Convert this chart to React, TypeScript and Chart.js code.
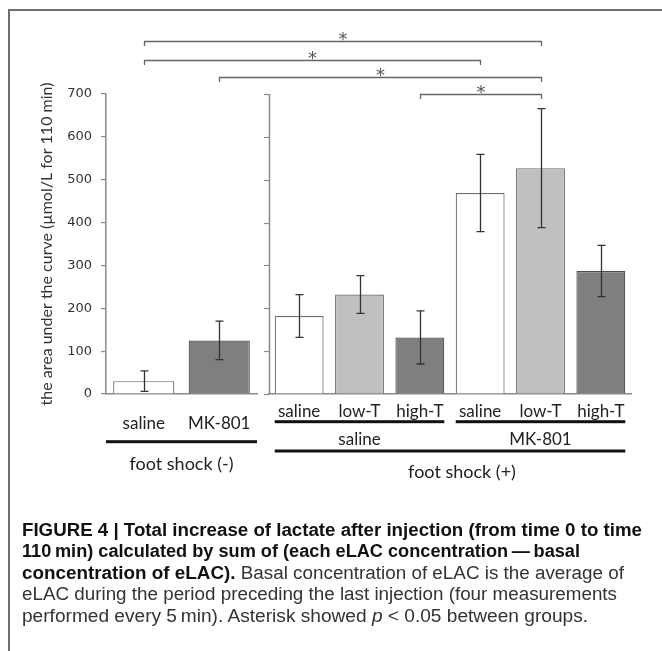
import React, { useEffect, useLayoutEffect, useRef } from 'react';
import { Chart, registerables } from 'chart.js';

Chart.register(...registerables);

// ---- data ----
const leftCategories = ['saline', 'MK-801'];
const leftMeans = [30, 125];
const leftErrors = [24, 45];
const leftFills = ['#ffffff', '#7f7f7f'];
const leftBorders = ['#6a6a6a', '#505050'];

const rightCategories = ['saline', 'low-T', 'high-T', 'saline', 'low-T', 'high-T'];
const rightMeans = [182, 232, 132, 469, 527, 287];
const rightErrors = [50, 44, 62, 90, 139, 60];
const rightFills = ['#ffffff', '#c0c0c0', '#7f7f7f', '#ffffff', '#c0c0c0', '#7f7f7f'];
const rightBorders = ['#6a6a6a', '#6a6a6a', '#505050', '#6a6a6a', '#6a6a6a', '#505050'];

const yMin = 0;
const yMax = 700;
const yStep = 100;
const yTitle = 'the area under the curve (µmol/L for 110 min)';

const rightGroupNames = ['saline', 'MK-801'];
const rightGroupStarts = [0, 3];
const rightGroupEnds = [2, 5];
const leftSuperGroup = 'foot shock (-)';
const rightSuperGroup = 'foot shock (+)';

// significance brackets (panel / bar index of both ends, height in y units)
const bracketFromPanel = ['L', 'L', 'L', 'R'];
const bracketFromIndex = [0, 0, 1, 2];
const bracketToPanel = ['R', 'R', 'R', 'R'];
const bracketToIndex = [4, 3, 4, 4];
const bracketLevels = [824, 780, 740, 700];
const bracketMark = '*';

const AXIS_COLOR = '#8a8a8a';

function FitLine(props: { top: number; width: number; children: React.ReactNode }) {
  const ref = useRef<HTMLDivElement>(null);
  useLayoutEffect(() => {
    const el = ref.current;
    if (!el) return;
    el.style.transform = 'none';
    const w = el.getBoundingClientRect().width;
    if (w > 0) el.style.transform = `scaleX(${props.width / w})`;
  }, [props.width]);
  return (
    <div
      ref={ref}
      style={{
        position: 'absolute',
        left: 22,
        top: props.top,
        whiteSpace: 'nowrap',
        transformOrigin: '0 0',
        fontFamily: '"Liberation Sans Narrow", "Liberation Sans", Arial, sans-serif',
        fontSize: 18,
        lineHeight: '21.6px',
        color: '#333',
      }}
    >
      {props.children}
    </div>
  );
}

export default function App() {
  const canvasRef = useRef<HTMLCanvasElement>(null);

  useEffect(() => {
    const canvas = canvasRef.current;
    if (!canvas) return;
    const errorsByDataset = [leftErrors, rightErrors];

    const annotations = {
      id: 'annotations',
      afterDatasetsDraw(chart: any) {
        const ctx = chart.ctx;
        const y = chart.scales.y;
        ctx.save();
        ctx.strokeStyle = '#333';
        ctx.lineWidth = 1.3;
        chart.data.datasets.forEach((ds: any, di: number) => {
          const meta = chart.getDatasetMeta(di);
          const errs = errorsByDataset[di];
          meta.data.forEach((bar: any, i: number) => {
            const v = ds.data[i];
            const e = errs[i];
            const x = Math.round(bar.x) + 0.5;
            const yt = y.getPixelForValue(v + e);
            const yb = y.getPixelForValue(v - e);
            ctx.beginPath();
            ctx.moveTo(x, yt);
            ctx.lineTo(x, yb);
            ctx.moveTo(x - 4, yt);
            ctx.lineTo(x + 4, yt);
            ctx.moveTo(x - 4, yb);
            ctx.lineTo(x + 4, yb);
            ctx.stroke();
          });
        });
        ctx.restore();
      },
      afterDraw(chart: any) {
        const ctx = chart.ctx;
        const y = chart.scales.y;
        const xL = chart.scales.xL;
        const xR = chart.scales.xR;
        const base = chart.chartArea.bottom;
        const L = chart.getDatasetMeta(0).data as any[];
        const R = chart.getDatasetMeta(1).data as any[];
        ctx.save();

        // right panel vertical axis, sharing the y scale
        const ax = Math.round(xR.left) + 0.5;
        ctx.strokeStyle = AXIS_COLOR;
        ctx.lineWidth = 1.5;
        ctx.beginPath();
        ctx.moveTo(ax, y.getPixelForValue(yMax));
        ctx.lineTo(ax, y.getPixelForValue(yMin));
        ctx.stroke();
        ctx.lineWidth = 1.2;
        y.ticks.forEach((t: any) => {
          const ty = Math.round(y.getPixelForValue(t.value)) + 0.5;
          ctx.beginPath();
          ctx.moveTo(ax - 5.5, ty);
          ctx.lineTo(ax, ty);
          ctx.stroke();
        });

        ctx.textAlign = 'center';
        ctx.textBaseline = 'middle';

        // right sub groups
        rightGroupNames.forEach((name, g) => {
          const a = R[rightGroupStarts[g]];
          const b = R[rightGroupEnds[g]];
          const x0 = a.x - a.width / 2;
          const x1 = b.x + b.width / 2;
          ctx.fillStyle = '#111';
          ctx.fillRect(x0, base + 26.2, x1 - x0, 3);
          ctx.fillStyle = '#222';
          ctx.font = '17px Lato';
          ctx.fillText(name, (a.x + b.x) / 2, base + 46);
        });
        // right super group
        const r0 = R[0];
        const rn = R[R.length - 1];
        ctx.fillStyle = '#111';
        ctx.fillRect(r0.x - r0.width / 2, base + 55.5, rn.x + rn.width / 2 - (r0.x - r0.width / 2), 3);
        ctx.fillStyle = '#222';
        ctx.font = '18px Lato';
        ctx.fillText(rightSuperGroup, (r0.x + rn.x) / 2 + 12, base + 78);
        // left super group
        ctx.fillStyle = '#111';
        ctx.fillRect(xL.left, base + 46.2, xL.right - xL.left, 3);
        ctx.fillStyle = '#222';
        ctx.font = '18px Lato';
        ctx.fillText(leftSuperGroup, (L[0].x + L[L.length - 1].x) / 2, base + 70);

        // significance brackets
        bracketLevels.forEach((lvl, k) => {
          const a = (bracketFromPanel[k] === 'L' ? L : R)[bracketFromIndex[k]];
          const b = (bracketToPanel[k] === 'L' ? L : R)[bracketToIndex[k]];
          const yy = Math.round(y.getPixelForValue(lvl)) + 0.5;
          const bx0 = Math.round(a.x) + 0.5;
          const bx1 = Math.round(b.x) + 0.5;
          ctx.strokeStyle = '#666';
          ctx.lineWidth = 1.3;
          ctx.beginPath();
          ctx.moveTo(bx0, yy + 4.5);
          ctx.lineTo(bx0, yy);
          ctx.lineTo(bx1, yy);
          ctx.lineTo(bx1, yy + 4.5);
          ctx.stroke();
          ctx.fillStyle = '#555';
          ctx.font = '18px "DejaVu Sans"';
          ctx.textBaseline = 'alphabetic';
          ctx.fillText(bracketMark, (bx0 + bx1) / 2, yy + 3);
        });
        ctx.restore();
      },
    };

    const chart = new Chart(canvas, {
      type: 'bar',
      data: {
        datasets: [
          {
            label: leftSuperGroup,
            data: leftMeans,
            xAxisID: 'xL',
            yAxisID: 'y',
            backgroundColor: leftFills,
            borderColor: leftBorders,
            borderWidth: 1.2,
            categoryPercentage: 0.81,
            barPercentage: 1,
            grouped: false,
          } as any,
          {
            label: rightSuperGroup,
            data: rightMeans,
            xAxisID: 'xR',
            yAxisID: 'y',
            backgroundColor: rightFills,
            borderColor: rightBorders,
            borderWidth: 1.2,
            categoryPercentage: 0.81,
            barPercentage: 1,
            grouped: false,
          } as any,
        ],
      },
      options: {
        responsive: false,
        animation: false,
        devicePixelRatio: 1,
        layout: { padding: { left: 0, right: 31, top: 94, bottom: 157 } },
        plugins: { legend: { display: false }, tooltip: { enabled: false } },
        scales: {
          xL: {
            type: 'category',
            labels: leftCategories,
            position: 'bottom',
            stack: 'panels',
            stackWeight: 151,
            weight: 0,
            offset: true,
            grid: { display: false },
            border: { display: true, color: AXIS_COLOR, width: 1.5 },
            ticks: { color: '#222', font: { family: 'Lato', size: 17 }, padding: 11, maxRotation: 0, autoSkip: false },
            afterFit: (s: any) => { s.height = 100; },
          },
          xGap: {
            type: 'category',
            labels: [''],
            position: 'bottom',
            stack: 'panels',
            stackWeight: 12,
            weight: 1,
            display: false,
            afterFit: (s: any) => { s.height = 100; },
          },
          xR: {
            type: 'category',
            labels: rightCategories,
            position: 'bottom',
            stack: 'panels',
            stackWeight: 362,
            weight: 2,
            offset: true,
            grid: { display: false },
            border: { display: true, color: AXIS_COLOR, width: 1.5 },
            ticks: { color: '#222', font: { family: 'Lato', size: 17 }, padding: -1, maxRotation: 0, autoSkip: false },
            afterFit: (s: any) => { s.height = 100; },
          },
          y: {
            type: 'linear',
            position: 'left',
            min: yMin,
            max: yMax,
            ticks: { stepSize: yStep, color: '#333', font: { family: 'DejaVu Sans', size: 13 }, padding: 9 },
            grid: { drawOnChartArea: false, drawTicks: true, tickLength: 5, color: AXIS_COLOR, lineWidth: 1.2 },
            border: { display: true, color: AXIS_COLOR, width: 1.5 },
            title: {
              display: true,
              text: yTitle,
              color: '#333',
              font: { family: 'Lato', size: 16 },
              padding: { top: 37, bottom: 0 },
            },
            afterFit: (s: any) => { s.width = 106; },
          },
        } as any,
      },
      plugins: [annotations],
    });
    return () => chart.destroy();
  }, []);

  return (
    <div style={{ position: 'absolute', left: 0, top: 0, width: 662, height: 651, background: '#fff', overflow: 'hidden' }}>
      <div
        style={{
          position: 'absolute',
          left: 8,
          top: 9,
          right: -10,
          bottom: -10,
          borderLeft: '2px solid #707070',
          borderTop: '2px solid #707070',
        }}
      />
      <canvas ref={canvasRef} width={662} height={651} style={{ position: 'absolute', left: 0, top: 0 }} />
      <FitLine top={519.5} width={620}>
        <b style={{ color: '#111' }}>FIGURE 4 | Total increase of lactate after injection (from time 0 to time</b>
      </FitLine>
      <FitLine top={541} width={558}>
        <b style={{ color: '#111' }}>110{'\u2009'}min) calculated by sum of (each eLAC concentration{'\u2009'}—{'\u2009'}basal</b>
      </FitLine>
      <FitLine top={562.7} width={602}>
        <b style={{ color: '#111' }}>concentration of eLAC).</b> Basal concentration of eLAC is the average of
      </FitLine>
      <FitLine top={584.3} width={595}>
        eLAC during the period preceding the last injection (four measurements
      </FitLine>
      <FitLine top={606} width={566}>
        performed every 5{'\u2009'}min). Asterisk showed <i>p</i> {'<'} 0.05 between groups.
      </FitLine>
    </div>
  );
}
